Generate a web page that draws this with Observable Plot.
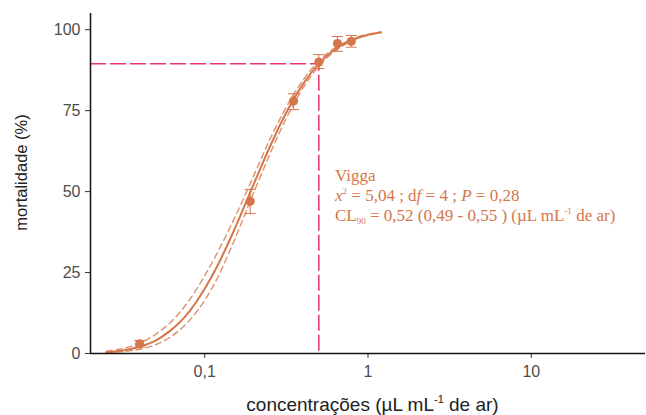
<!DOCTYPE html>
<html><head><meta charset="utf-8">
<script src="https://cdn.jsdelivr.net/npm/d3@7"></script>
<script src="https://cdn.jsdelivr.net/npm/@observablehq/plot@0.6"></script>
<style>body{margin:0;background:#fff} #chart{width:646px;height:415px}</style>
</head><body><div id="chart"></div>
<script>
// Fitted curve and confidence bands
const curveX = [0.025, 0.03, 0.04, 0.05, 0.06, 0.08, 0.1, 0.12, 0.15, 0.2, 0.25, 0.3, 0.4, 0.5, 0.6, 0.8, 1.0, 1.2];
const fitY   = [0.4, 0.8, 2.1, 4.0, 6.6, 12.8, 20.0, 27.2, 37.6, 52.4, 63.7, 72.2, 83.2, 89.5, 93.2, 96.9, 98.4, 99.2];
const upperY = [0.7, 1.3, 3.2, 5.9, 9.0, 16.3, 24.0, 31.3, 41.1, 55.0, 66.0, 74.0, 84.4, 90.3, 93.7, 97.1, 98.6, 99.2];
const lowerY = [0.2, 0.5, 1.3, 2.7, 4.7, 10.0, 16.4, 23.4, 34.3, 49.8, 61.4, 70.3, 82.0, 88.7, 92.6, 96.6, 98.3, 99.1];
// Observed mortality
const obsX    = [0.04, 0.19, 0.35, 0.5, 0.65, 0.79];
const obsY    = [3, 47, 78, 90, 95.7, 96.4];
const obsLow  = [2, 43.2, 75.3, 88, 93.3, 94.6];
const obsHigh = [4, 50.7, 80.2, 92.3, 97.9, 98.2];
// CL90 reference
const cl90X = 0.5;
const cl90Y = 89.5;
// Ticks
const xTicks = [0.1, 1, 10];
const xTickLabels = ["0,1", "1", "10"];
const yTicks = [0, 25, 50, 75, 100];

const orange = "#d5764a";
const red = "#e8336a";
const xMin = 0.02, xMax = 50;

const fit = curveX.map((x, i) => ({x, y: fitY[i]}));
const up = curveX.map((x, i) => ({x, y: upperY[i]}));
const lo = curveX.map((x, i) => ({x, y: lowerY[i]}));
const obs = obsX.map((x, i) => ({x, y: obsY[i], lo: obsLow[i], hi: obsHigh[i]}));
const refLine = [{x: xMin, y: cl90Y}, {x: cl90X, y: cl90Y}, {x: cl90X, y: 0}];

const hbar = {draw(ctx, size) { const r = Math.sqrt(size / Math.PI); ctx.moveTo(-r, 0); ctx.lineTo(r, 0); }};

const plot = Plot.plot({
  width: 646, height: 415,
  marginLeft: 90, marginRight: 1, marginTop: 13, marginBottom: 62,
  style: {fontFamily: "'Liberation Sans', Arial, sans-serif", fontSize: "16px", background: "#fff", color: "#4d4d4d"},
  x: {type: "log", domain: [xMin, xMax]},
  y: {domain: [0, 105]},
  marks: [
    Plot.axisX({ticks: xTicks, tickFormat: d => xTickLabels[xTicks.indexOf(d)], tickSize: 5, tickPadding: 7, label: null, stroke: "#333", fill: "#4d4d4d"}),
    Plot.axisY({ticks: yTicks, tickSize: 5, tickPadding: 5, label: null, stroke: "#333", fill: "#4d4d4d"}),
    Plot.line(refLine, {x: "x", y: "y", stroke: red, strokeWidth: 1.5, strokeDasharray: "15,5"}),
    Plot.line(up, {x: "x", y: "y", stroke: orange, strokeWidth: 1.4, strokeOpacity: 0.8, strokeDasharray: "6,4", curve: "monotone-x"}),
    Plot.line(lo, {x: "x", y: "y", stroke: orange, strokeWidth: 1.4, strokeOpacity: 0.8, strokeDasharray: "6,4", curve: "monotone-x"}),
    Plot.line(fit, {x: "x", y: "y", stroke: orange, strokeWidth: 2, curve: "monotone-x"}),
    Plot.ruleX(obs, {x: "x", y1: "lo", y2: "hi", stroke: orange, strokeWidth: 1}),
    Plot.dot(obs, {x: "x", y: "hi", symbol: hbar, r: 5.5, stroke: orange, strokeWidth: 1}),
    Plot.dot(obs, {x: "x", y: "lo", symbol: hbar, r: 5.5, stroke: orange, strokeWidth: 1}),
    Plot.dot(obs, {x: "x", y: "y", r: 4.6, fill: orange, stroke: "none"}),
    Plot.ruleX([xMin], {stroke: "#111", strokeWidth: 1.5}),
    Plot.ruleY([0], {stroke: "#111", strokeWidth: 1.5})
  ]
});

const svg = d3.select(plot);
// axis titles
const xt = svg.append("text").attr("x", 372.5).attr("y", 411).attr("text-anchor", "middle")
  .attr("font-family", "'Liberation Sans', Arial, sans-serif").attr("font-size", 19).attr("fill", "#222");
xt.append("tspan").text("concentrações (µL mL");
xt.append("tspan").attr("font-size", 11).attr("dy", -8).text("-1");
xt.append("tspan").attr("dy", 8).text(" de ar)");
svg.append("text").attr("transform", "translate(27,172.5) rotate(-90)").attr("text-anchor", "middle")
  .attr("font-family", "'Liberation Sans', Arial, sans-serif").attr("font-size", 16.5).attr("fill", "#222")
  .text("mortalidade (%)");

// annotation
const g = svg.append("g").attr("font-family", "'Liberation Serif', 'Times New Roman', serif")
  .attr("font-size", 17).attr("fill", orange).attr("text-anchor", "start");
g.append("text").attr("x", 335).attr("y", 180.7).text("Vigga");
const t2 = g.append("text").attr("x", 335).attr("y", 200.5);
t2.append("tspan").attr("font-style", "italic").text("x");
t2.append("tspan").attr("font-size", 9).attr("dy", -7).text("2");
t2.append("tspan").attr("dy", 7).text(" = 5,04 ; d");
t2.append("tspan").attr("font-style", "italic").text("f");
t2.append("tspan").text(" = 4 ; ");
t2.append("tspan").attr("font-style", "italic").text("P");
t2.append("tspan").text(" = 0,28");
const t3 = g.append("text").attr("x", 335).attr("y", 220.7);
t3.append("tspan").text("CL");
t3.append("tspan").attr("font-size", 9).attr("dy", 3).text("90");
t3.append("tspan").attr("dy", -3).text(" = 0,52 (0,49 - 0,55 ) (µL mL");
t3.append("tspan").attr("font-size", 9).attr("dy", -7).text("-1");
t3.append("tspan").attr("dy", 7).text(" de ar)");

document.getElementById("chart").append(plot);
</script>
</body></html>
